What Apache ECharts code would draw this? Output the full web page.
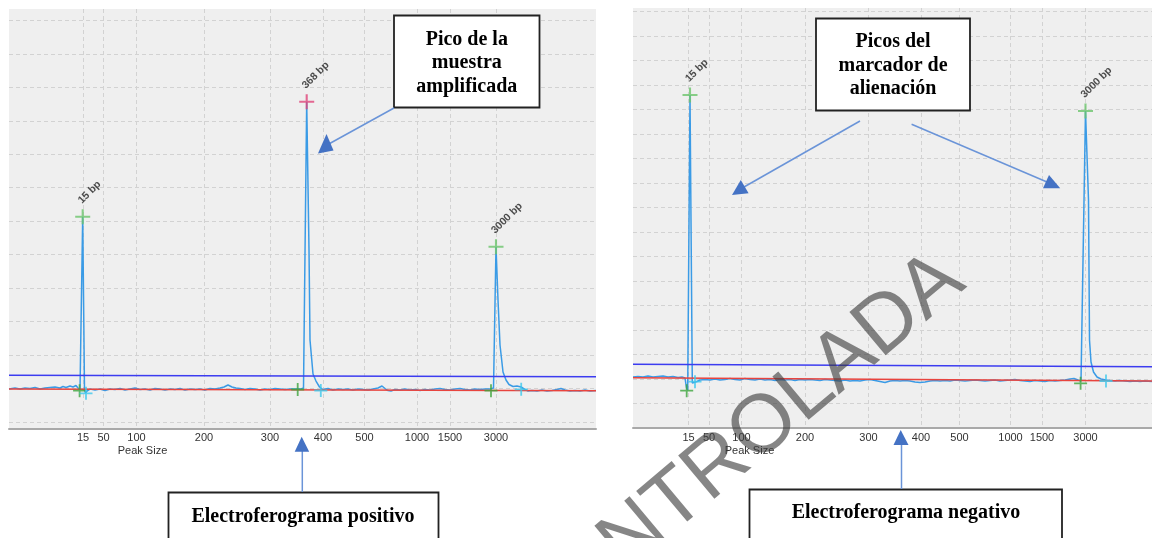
<!DOCTYPE html>
<html>
<head>
<meta charset="utf-8">
<title>Electroferogramas</title>
<script src="https://cdn.jsdelivr.net/npm/echarts@6/dist/echarts.min.js"></script>
<style>
  html, body { margin: 0; padding: 0; background: #fff; }
  #main { width: 1152px; height: 538px; }
</style>
</head>
<body>
<div id="main"></div>
<script>
// eje x en escaneos de la corrida, etiquetas = tamano del pico (bp)
var tickLabels = ['15', '50', '100', '200', '300', '400', '500', '1000', '1500', '3000'];
var posTickPos = [74, 94.5, 127.5, 195, 261, 314, 355.5, 408, 441, 487];
var negTickPos = [55.5, 76, 108.5, 172, 235.5, 288, 326.5, 377.5, 409, 452.5];

// lineas de rejilla horizontales (RFU)
var posGridRfu = [0, 100, 200, 300, 400, 500, 600, 700, 800, 900, 1000, 1100, 1200];
var negGridRfu = [0, 100, 200, 300, 400, 500, 600, 700, 800, 900, 1000, 1100, 1200, 1300, 1400, 1500, 1600, 1700];

// electroferograma positivo
var posTrace = [[0,98.6],[6,101.6],[11,98.6],[16,101.6],[21,100.1],[26,103.1],[31,98.6],[36,101.6],[41,103.1],[46,104.6],
  [51,101.6],[54,106.1],[57,103.1],[61,107.6],[64,104.6],[67,109.1],[69,101.6],[71,95.6],[72,95.6],[73.7,613.4],
  [75.5,95.6],[76.5,86.6],[78,92.6],[81,98.6],[86,95.6],[91,98.6],[96,94.1],[101,98.6],[106,97.1],[111,100.1],
  [116,95.6],[121,98.6],[126,101.6],[131,97.1],[136,98.6],[141,95.6],[146,100.1],[151,98.6],[156,95.6],[161,98.6],
  [166,97.1],[171,100.1],[176,95.6],[181,98.6],[186,97.1],[191,98.6],[196,95.6],[201,100.1],[206,98.6],[211,101.6],
  [215,104.6],[219,110.5],[223,104.6],[227,101.6],[231,100.1],[236,97.1],[241,100.1],[246,98.6],[251,95.6],[256,98.6],
  [261,97.1],[266,100.1],[271,98.6],[276,97.1],[281,98.6],[286,98.6],[289,98.6],[292,98.6],[294.5,101.6],[297.7,957.0],
  [300,513.9],[301,245.0],[304,143.4],[307,122.5],[310.5,104.6],[314,97.1],[319,100.1],[324,95.6],[329,98.6],[334,97.1],
  [339,98.6],[344,95.6],[349,98.6],[354,97.1],[359,95.6],[364,98.6],[369,101.6],[373,107.6],[376,100.1],[379,94.1],
  [382,92.6],[386,97.1],[391,95.6],[396,98.6],[401,95.6],[406,97.1],[411,94.1],[416,97.1],[421,95.6],[426,98.6],
  [431,100.1],[436,97.1],[441,95.6],[446,98.6],[451,100.1],[456,97.1],[461,95.6],[466,98.6],[471,97.1],[476,98.6],
  [481,98.6],[484.5,101.6],[487,523.8],[489,364.5],[491,230.1],[494,149.4],[497,125.5],[500,112.0],[504,106.1],[508,107.6],
  [512,104.6],[516,97.1],[519,92.6],[523,94.1],[528,92.6],[533,95.6],[538,92.6],[543,94.1],[548,97.1],[552,100.1],
  [556,95.6],[561,92.6],[566,94.1],[571,92.6],[576,95.6],[581,92.6],[587,94.1]];
var posBaseline = [[0, 98.6], [587, 93.5]];
var posThreshold = [[0, 139.5], [587, 135.4]];
var posPeakNames = ['15 bp', '368 bp', '3000 bp'];
var posPeakKinds = ['marker', 'sample', 'marker'];
var posPeakTops = [[73.7, 613.4], [297.7, 957.0], [487, 523.8]];
var posPeakStarts = [[70.6, 93.5], [288.7, 97.1], [482, 93.5]];
var posPeakEnds = [[77, 85.8], [311.8, 94.1], [512.2, 97.7]];

// electroferograma negativo
var negTrace = [[0,208.2],[5,210.2],[10,208.2],[15,212.2],[20,208.2],[25,210.2],[30,212.2],[35,208.2],[40,210.2],[45,206.1],
  [49,208.2],[52,204.1],[53.5,163.3],[54.7,155.1],[57,1359.2],[59.3,183.7],[61,187.8],[64,189.8],[67,195.9],[72,198.0],
  [77,195.9],[82,200.0],[87,195.9],[92,198.0],[97,202.0],[102,198.0],[107,195.9],[112,202.0],[117,198.0],[122,195.9],
  [127,200.0],[132,195.9],[137,198.0],[142,193.9],[147,198.0],[152,195.9],[157,198.0],[162,193.9],[167,198.0],[172,195.9],
  [177,198.0],[182,195.9],[187,193.9],[192,198.0],[197,195.9],[202,193.9],[207,191.8],[212,195.9],[217,191.8],[222,193.9],
  [227,191.8],[232,195.9],[237,198.0],[242,193.9],[247,189.8],[252,185.7],[257,191.8],[262,193.9],[267,191.8],[272,193.9],
  [277,191.8],[282,187.8],[287,185.7],[292,187.8],[297,191.8],[302,193.9],[307,191.8],[312,193.9],[317,191.8],[322,195.9],
  [327,193.9],[332,191.8],[337,193.9],[342,195.9],[347,193.9],[352,191.8],[357,193.9],[362,195.9],[367,191.8],[372,193.9],
  [377,195.9],[382,198.0],[387,193.9],[392,191.8],[397,189.8],[402,193.9],[407,191.8],[412,189.8],[417,193.9],[422,191.8],
  [427,193.9],[432,195.9],[437,200.0],[441,202.0],[445,195.9],[448,191.8],[449.5,195.9],[452.5,1293.9],[455.5,930.6],[456.5,359.2],
  [458,269.4],[460.5,228.6],[464,208.2],[468,200.0],[473,195.9],[477,193.9],[482,191.8],[487,193.9],[492,191.8],[497,189.8],
  [502,191.8],[507,189.8],[512,191.8],[519,189.8]];
var negBaseline = [[0, 205.3], [519, 192.0]];
var negThreshold = [[0, 260.0], [519, 250.2]];
var negPeakNames = ['15 bp', '3000 bp'];
var negPeakKinds = ['marker', 'marker'];
var negPeakTops = [[57, 1359.2], [452.5, 1293.9]];
var negPeakStarts = [[53.7, 152.2], [447.6, 182.4]];
var negPeakEnds = [[62, 189.0], [473, 191.8]];

var PLUS = 'path://M4.3,0H5.7V4.3H10V5.7H5.7V10H4.3V5.7H0V4.3H4.3Z';
var gridDash = { color: '#d2d2d2', width: 1, type: [4, 3] };

function labelFor(ticks) {
    return function (v) {
        for (var i = 0; i < ticks.length; i++) {
            if (Math.abs(ticks[i] - v) < 0.01) return tickLabels[i];
        }
        return '';
    };
}

function makeXAxis(idx, max, ticks, namePad) {
    return {
        type: 'value', gridIndex: idx, min: 0, max: max,
        name: 'Peak Size', nameLocation: 'middle', nameGap: 17, nameMoveOverlap: false,
        nameTextStyle: { fontFamily: 'Liberation Sans', fontSize: 11, color: '#333', padding: [0, namePad, 0, 0] },
        axisLine: { onZero: false, lineStyle: { color: '#a9a9a9', width: 2 } },
        axisTick: { show: false, customValues: ticks },
        axisLabel: { customValues: ticks, formatter: labelFor(ticks), margin: 4,
            fontFamily: 'Liberation Sans', fontSize: 11, color: '#333' },
        splitLine: { show: true, lineStyle: gridDash }
    };
}

function makeYAxis(idx, min, max, ticks) {
    return {
        type: 'value', gridIndex: idx, min: min, max: max,
        axisLine: { show: false },
        axisTick: { show: false, customValues: ticks },
        axisLabel: { show: false },
        splitLine: { show: true, lineStyle: gridDash }
    };
}

function panelSeries(idx, trace, baseline, threshold, tops, names, kinds, starts, ends) {
    var topData = tops.map(function (p, i) {
        return { value: p, name: names[i], itemStyle: { color: kinds[i] === 'sample' ? '#e0457b' : '#6cc46c' } };
    });
    return [
        { type: 'line', xAxisIndex: idx, yAxisIndex: idx, data: trace, symbol: 'none', z: 2,
          lineStyle: { color: '#3a9be6', width: 1.5 } },
        { type: 'line', xAxisIndex: idx, yAxisIndex: idx, data: threshold, symbol: 'none', z: 3,
          lineStyle: { color: '#3c3cf0', width: 1.5 } },
        { type: 'line', xAxisIndex: idx, yAxisIndex: idx, data: baseline, symbol: 'none', z: 3,
          lineStyle: { color: '#e8443e', width: 1.5 } },
        { type: 'scatter', xAxisIndex: idx, yAxisIndex: idx, data: topData, symbol: PLUS, symbolSize: 15, z: 5,
          label: { show: true, formatter: '{b}', position: 'top', distance: 10, rotate: 45,
                   align: 'left', verticalAlign: 'middle', offset: [-4, 0],
                   fontFamily: 'Liberation Sans', fontWeight: 'bold', fontSize: 10.5, color: '#222' } },
        { type: 'scatter', xAxisIndex: idx, yAxisIndex: idx, data: starts, symbol: PLUS, symbolSize: 13, z: 5,
          itemStyle: { color: '#3da53d' } },
        { type: 'scatter', xAxisIndex: idx, yAxisIndex: idx, data: ends, symbol: PLUS, symbolSize: 13, z: 5,
          itemStyle: { color: '#3cc8ec' } }
    ];
}

function box(x, y, w, h, text, tx, ty) {
    return [
        { type: 'rect', z: 50, shape: { x: x, y: y, width: w, height: h },
          style: { fill: '#fff', stroke: '#222', lineWidth: 1.8 } },
        { type: 'text', z: 51, x: tx, y: ty,
          style: { text: text, font: 'bold 20px "Liberation Serif"', lineHeight: 23.5, fill: '#000',
                   align: 'center', verticalAlign: 'middle', textAlign: 'center', textVerticalAlign: 'middle' } }
    ];
}

function arrow(x1, y1, x2, y2, tri) {
    return [
        { type: 'line', z: 52, shape: { x1: x1, y1: y1, x2: x2, y2: y2 },
          style: { stroke: '#6a94d8', lineWidth: 1.5 } },
        { type: 'polygon', z: 52, shape: { points: tri }, style: { fill: '#4472c4' } }
    ];
}

var graphics = [].concat(
    box(394, 15.5, 145.5, 92, 'Pico de la\nmuestra\namplificada', 466.8, 63.3),
    box(816, 18.5, 154, 92, 'Picos del\nmarcador de\nalienación', 893, 65.8),
    box(168.5, 492.5, 270, 60, 'Electroferograma positivo', 303, 516.7),
    box(749.5, 489.5, 312.5, 60, 'Electroferograma negativo', 906, 512.7),
    arrow(394, 108, 327, 145, [[318, 153.5], [333.5, 150.5], [326.5, 134]]),
    arrow(860, 121, 744, 187, [[732, 195], [748.6, 193.3], [740.8, 180]]),
    arrow(911.6, 124.3, 1047, 182, [[1043, 188.3], [1060.2, 188.3], [1049, 175]]),
    arrow(302.3, 492, 302.3, 451, [[294.7, 451.7], [309.2, 451.7], [301.7, 436.7]]),
    arrow(901.5, 489, 901.5, 445, [[893.5, 445], [908.5, 445], [900.7, 430]]),
    [{ type: 'text', z: 100, x: 735, y: 452, rotation: 40 * Math.PI / 180,
       style: { text: 'CONTROLADA', font: '82px "Liberation Sans"', fill: 'rgba(60,60,60,0.62)',
                align: 'center', verticalAlign: 'middle', textAlign: 'center', textVerticalAlign: 'middle' } }]
);

var chart = echarts.init(document.getElementById('main'));
chart.setOption({
    animation: false,
    backgroundColor: '#fff',
    grid: [
        { left: 9, top: 9, width: 587, height: 419.5, show: true, backgroundColor: '#efefef', borderWidth: 0, outerBoundsMode: 'none' },
        { left: 633, top: 8, width: 519, height: 420, show: true, backgroundColor: '#efefef', borderWidth: 0, outerBoundsMode: 'none' }
    ],
    xAxis: [
        makeXAxis(0, 587, posTickPos, 320),
        makeXAxis(1, 519, negTickPos, 286)
    ],
    yAxis: [
        makeYAxis(0, -19.4, 1234, posGridRfu),
        makeYAxis(1, 0, 1714, negGridRfu)
    ],
    series: [].concat(
        panelSeries(0, posTrace, posBaseline, posThreshold, posPeakTops, posPeakNames, posPeakKinds, posPeakStarts, posPeakEnds),
        panelSeries(1, negTrace, negBaseline, negThreshold, negPeakTops, negPeakNames, negPeakKinds, negPeakStarts, negPeakEnds)
    ),
    graphic: graphics
});
</script>
</body>
</html>
